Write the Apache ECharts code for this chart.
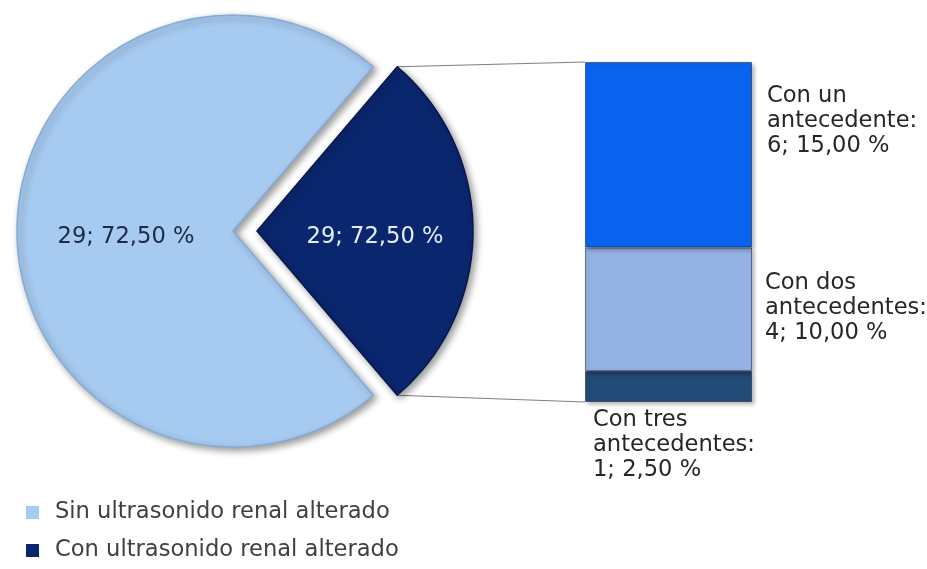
<!DOCTYPE html>
<html>
<head>
<meta charset="utf-8">
<script src="https://cdn.jsdelivr.net/npm/echarts@6/dist/echarts.min.js"></script>
<style>
html,body{margin:0;padding:0;background:#fff;}
#main{width:927px;height:569px;}
</style>
</head>
<body>
<div id="main"></div>
<script>
// ---- data ----
const pieNames = ['Con ultrasonido renal alterado', 'Sin ultrasonido renal alterado'];
const pieValues = [11, 29];
const pieLabels = ['29; 72,50 %', '29; 72,50 %'];
const legendOrder = ['Sin ultrasonido renal alterado', 'Con ultrasonido renal alterado'];

const barNames = ['Con tres antecedentes', 'Con dos antecedentes', 'Con un antecedente'];
const barValues = [1, 4, 6];
const barLabels = ['Con tres\nantecedentes:\n1; 2,50 %', 'Con dos\nantecedentes:\n4; 10,00 %', 'Con un\nantecedente:\n6; 15,00 %'];

// ---- styles ----
const FONT = 'DejaVu Sans';
const FS = 22.6;
const pieColors = ['#0A266E', '#A6CAF0'];
const barColors = ['#234B78', '#94B2E4', '#0A64F0'];
const PIE_CENTER = [233, 231];
const PIE_R = 216;
const EXPLODE = 24;

const total = pieValues.reduce((a, b) => a + b, 0);
const darkAngle = pieValues[0] / total * 360;
const startAngle = darkAngle / 2;

const chart = echarts.init(document.getElementById('main'), null, {renderer: 'canvas'});

const barLabelPos = [[8, 37], [180, 23], [182, 22]];

const barSeries = barValues.map((v, i) => ({
  name: barNames[i],
  type: 'bar',
  stack: 'total',
  barWidth: '100%',
  xAxisIndex: 0,
  yAxisIndex: 0,
  data: [v],
  itemStyle: {
    color: barColors[i],
    borderColor: 'rgba(20,40,70,0.55)',
    borderWidth: 1,
    shadowColor: 'rgba(0,0,0,0.3)',
    shadowBlur: 4,
    shadowOffsetX: 2,
    shadowOffsetY: 2
  },
  label: {
    show: true,
    formatter: barLabels[i],
    position: barLabelPos[i],
    align: 'left',
    verticalAlign: 'top',
    fontFamily: FONT,
    fontSize: FS,
    lineHeight: 25,
    color: '#262626'
  },
  emphasis: {disabled: true},
  silent: true
}));

chart.setOption({
  animation: false,
  backgroundColor: '#ffffff',
  legend: {
    data: legendOrder,
    orient: 'vertical',
    left: 21,
    top: 496,
    itemWidth: 13,
    itemHeight: 13,
    itemGap: 15,
    icon: 'rect',
    selectedMode: false,
    itemStyle: {borderWidth: 0, shadowBlur: 0, shadowOffsetX: 0, shadowOffsetY: 0},
    textStyle: {fontFamily: FONT, fontSize: FS, color: '#404040', padding: [0, 0, 0, 11]}
  },
  grid: {left: 585, top: 62, width: 167, height: 340, containLabel: false},
  xAxis: {type: 'category', data: [''], show: false},
  yAxis: {type: 'value', min: 0, max: barValues.reduce((a, b) => a + b, 0), show: false},
  series: [
    {
      type: 'pie',
      center: PIE_CENTER,
      radius: PIE_R,
      startAngle: startAngle,
      clockwise: true,
      selectedMode: 'single',
      selectedOffset: EXPLODE,
      avoidLabelOverlap: false,
      silent: true,
      emphasis: {disabled: true, scale: false},
      data: pieValues.map((v, i) => ({
        name: pieNames[i],
        value: v,
        selected: i === 0,
        itemStyle: {
          color: pieColors[i],
          borderColor: i === 0 ? '#06184a' : '#86aad6',
          borderWidth: 1.5,
          shadowColor: 'rgba(0,0,0,0.4)',
          shadowBlur: 7,
          shadowOffsetX: 3,
          shadowOffsetY: 3
        },
        select: {itemStyle: {color: pieColors[i], borderColor: i === 0 ? '#06184a' : '#86aad6', borderWidth: 1.5}},
        label: {
          show: true,
          position: 'inside',
          formatter: pieLabels[i],
          fontFamily: FONT,
          fontSize: FS,
          color: i === 0 ? '#E6EEF8' : '#1B2A45'
        }
      })),
      labelLayout: function (p) { return p.dataIndex === 0 ? {dx: 7, dy: 6} : {dx: 2, dy: 3}; }
    }
  ].concat(barSeries)
});

// ---- connector lines, computed from pie geometry and bar axes ----
(function () {
  const rad = Math.PI / 180;
  const midA = (startAngle - darkAngle / 2) * rad;
  const ax = PIE_CENTER[0] + EXPLODE * Math.cos(midA);
  const ay = PIE_CENTER[1] - EXPLODE * Math.sin(midA);
  const a1 = startAngle * rad, a2 = (startAngle - darkAngle) * rad;
  const p1 = [ax + PIE_R * Math.cos(a1), ay - PIE_R * Math.sin(a1)];
  const p2 = [ax + PIE_R * Math.cos(a2), ay - PIE_R * Math.sin(a2)];
  const rect = chart.getModel().getComponent('grid').coordinateSystem.getRect();
  const topY = chart.convertToPixel({yAxisIndex: 0}, barValues.reduce((a, b) => a + b, 0));
  const botY = chart.convertToPixel({yAxisIndex: 0}, 0);
  chart.setOption({
    graphic: [
      {type: 'line', shape: {x1: p1[0], y1: p1[1], x2: rect.x, y2: topY}, style: {stroke: '#7f7f7f', lineWidth: 1}, z: -1, silent: true},
      {type: 'line', shape: {x1: p2[0], y1: p2[1], x2: rect.x, y2: botY}, style: {stroke: '#7f7f7f', lineWidth: 1}, z: -1, silent: true}
    ]
  });
})();
</script>
</body>
</html>
